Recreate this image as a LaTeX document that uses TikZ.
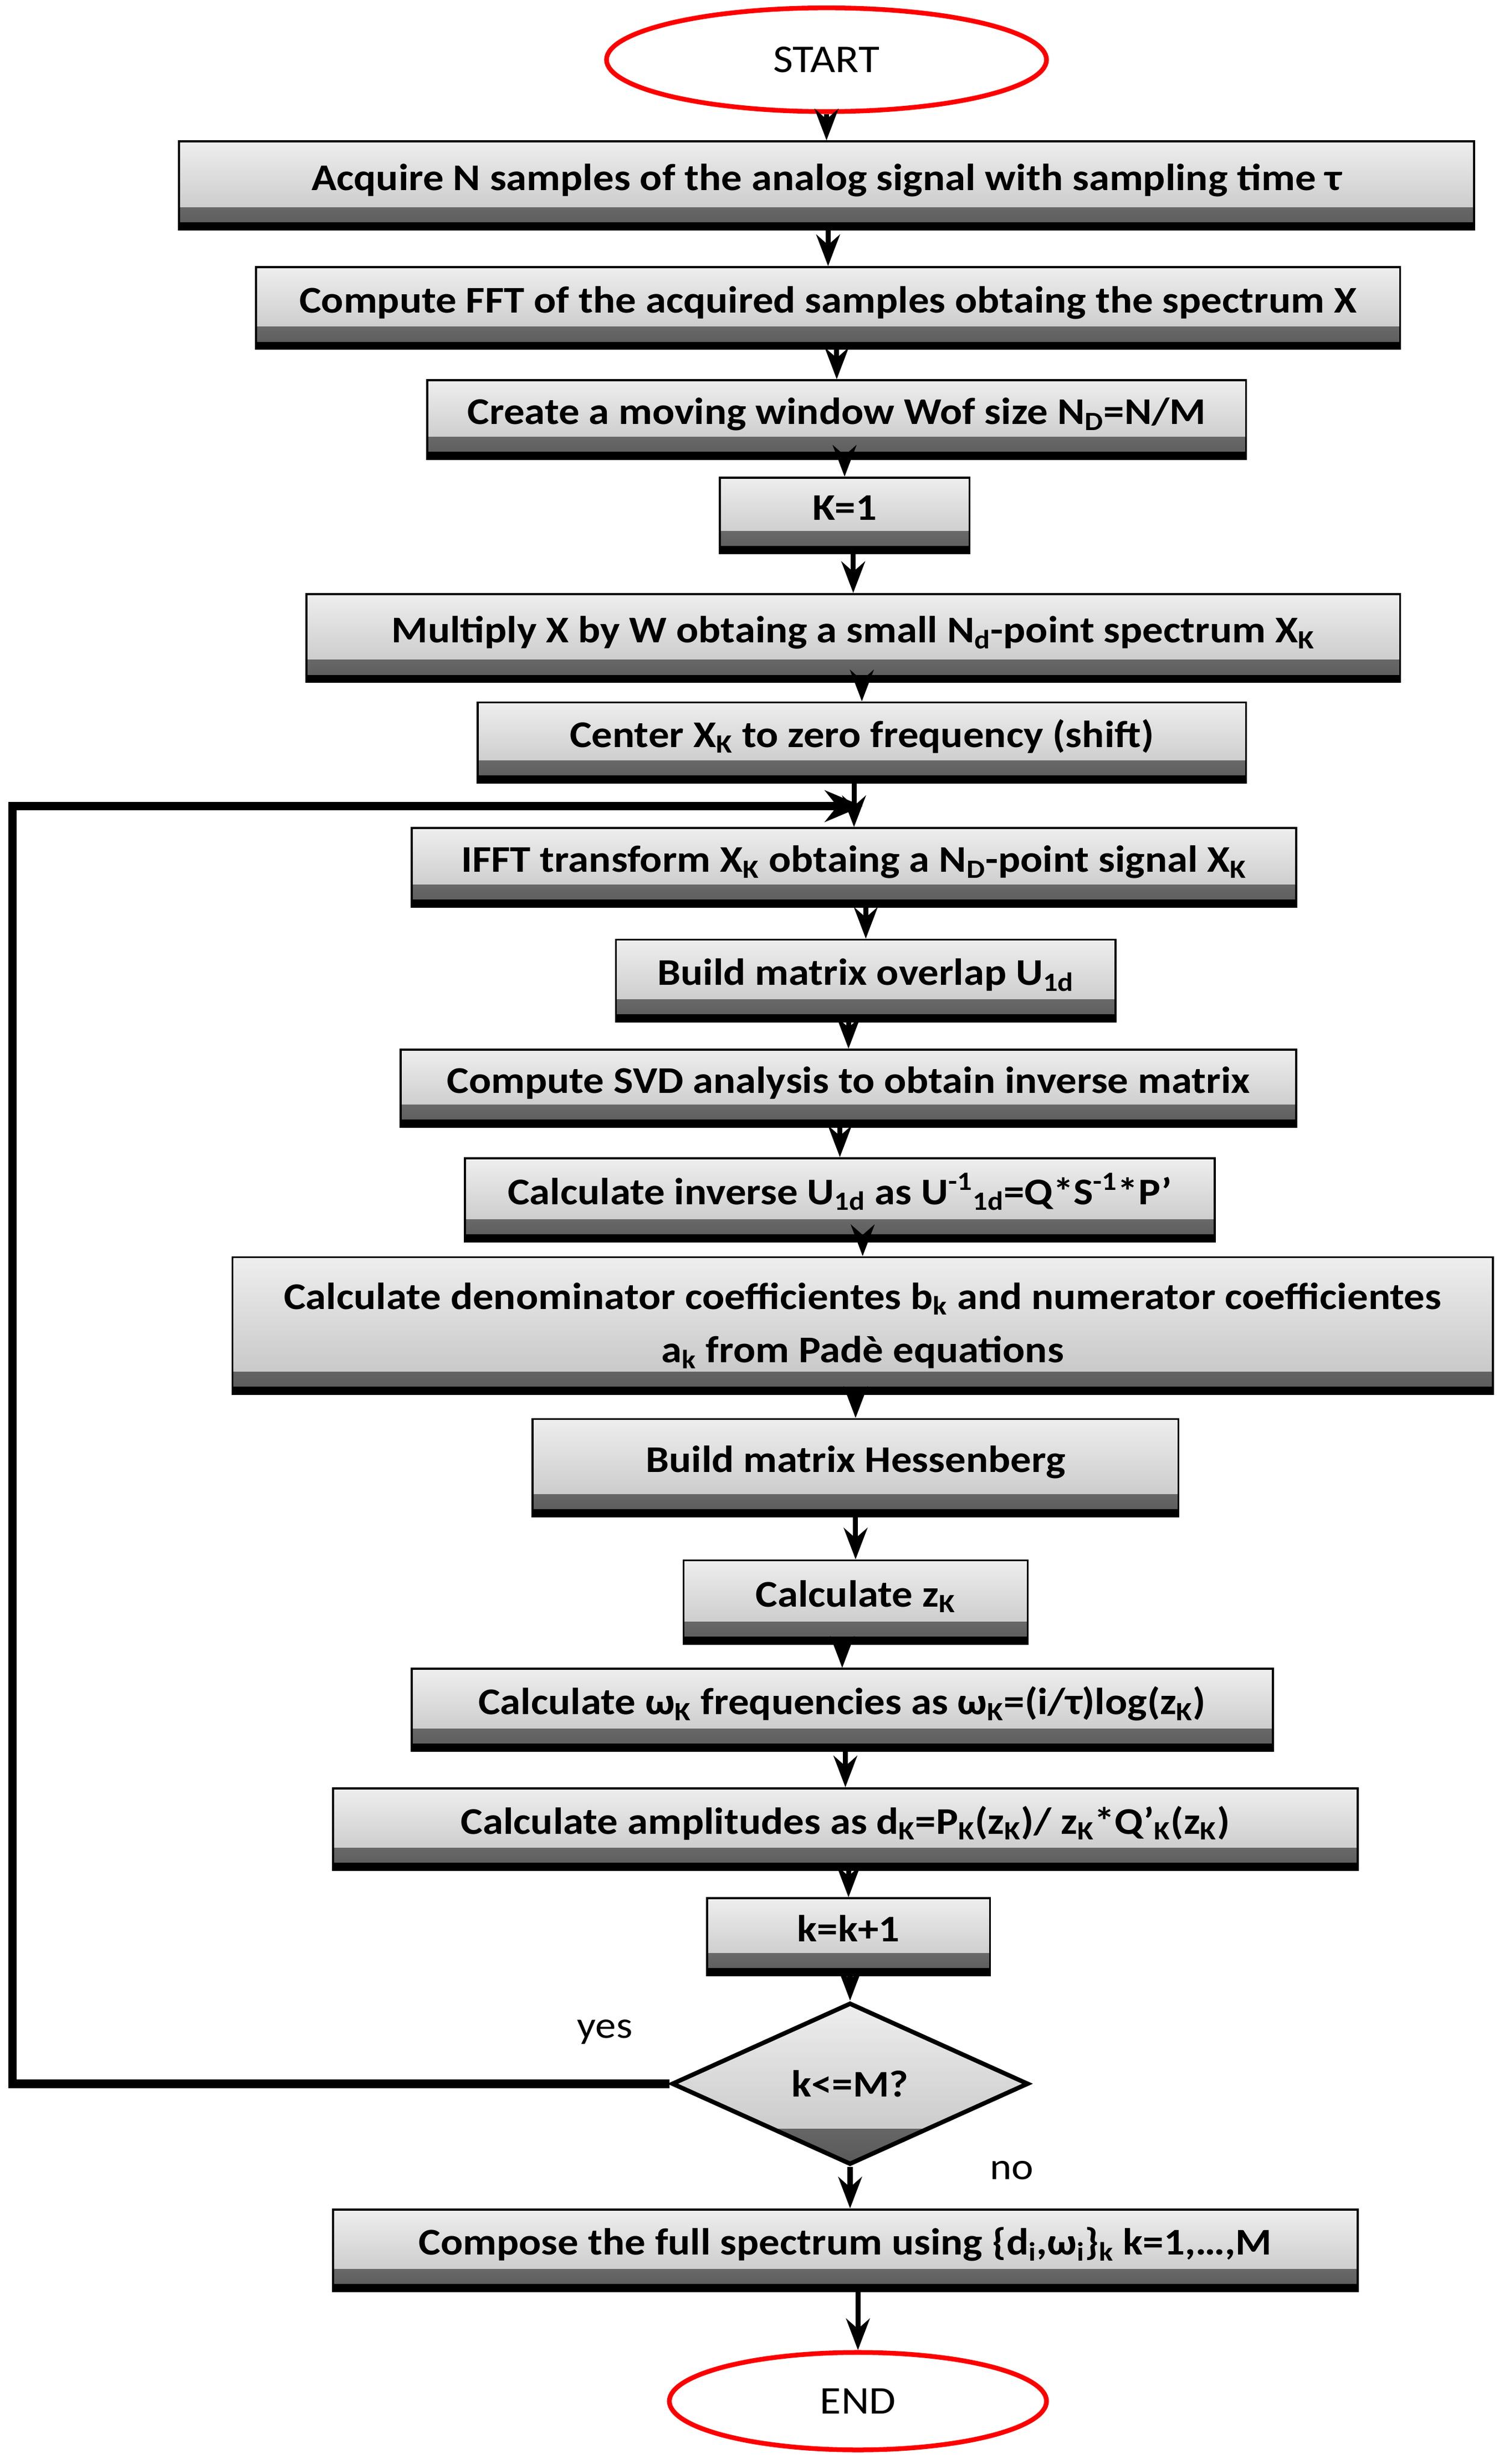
\documentclass[tikz,border=0pt]{standalone}
\usepackage{fontspec}
\setmainfont{Carlito}[FakeStretch=1.1]
\usetikzlibrary{shapes.geometric,arrows.meta,calc}
\definecolor{boxtop}{HTML}{EEEEEE}
\definecolor{boxbot}{HTML}{C2C2C2}
\definecolor{bandtop}{HTML}{8E8E8E}
\definecolor{bandbot}{HTML}{5A5A5A}
\tikzset{
  stepbox/.style={draw=black, line width=1.3pt, top color=boxtop, bottom color=boxbot,
    inner sep=0pt, align=center, font=\bfseries\fontsize{24}{34}\selectfont,
    path picture={
      \shade[top color=bandtop, bottom color=bandbot]
        (path picture bounding box.south west) rectangle ([yshift=14pt]path picture bounding box.south east);
      \fill[black]
        (path picture bounding box.south west) rectangle ([yshift=4.5pt]path picture bounding box.south east);
    }},
  oneline/.style={text height=16pt, text depth=10pt},
  decide/.style={diamond, draw=black, line width=2.8pt, top color=boxtop, bottom color=boxbot,
    inner sep=0pt, font=\bfseries\fontsize{24}{28}\selectfont,
    path picture={
      \shade[top color=bandtop, bottom color=bandbot]
        (path picture bounding box.south west) rectangle ([yshift=22pt]path picture bounding box.south east);
    }},
  term/.style={ellipse, draw=red, line width=3pt, fill=white, inner sep=0pt,
    font=\fontsize{25}{28}\selectfont},
  arr/.style={line width=3.2pt, -{Stealth[length=20pt,width=15pt]}},
  loopline/.style={line width=5.5pt, -{Stealth[length=24pt,width=20pt]}},
  lbl/.style={font=\fontsize{24}{28}\selectfont, inner sep=0pt}
}
\begin{document}
\begin{tikzpicture}[x=1pt,y=-1pt]
\useasboundingbox (0,0) rectangle (957,1568);

\node[term, minimum width=280pt, minimum height=66pt] (start) at (526,38) {START};

\node[stepbox, oneline, minimum width=824pt, minimum height=56pt] (acq) at (526,118)
  {Acquire N samples of the analog signal with sampling time τ};
\node[stepbox, oneline, minimum width=728pt, minimum height=52pt] (fft) at (527,196)
  {Compute FFT of the acquired samples obtaing the spectrum X};
\node[stepbox, oneline, minimum width=521pt, minimum height=50pt] (win) at (532.5,267)
  {Create a moving window Wof size N\textsubscript{D}=N/M};
\node[stepbox, oneline, minimum width=159pt, minimum height=48pt] (k1) at (537.5,328)
  {K=1};
\node[stepbox, oneline, minimum width=696pt, minimum height=56pt] (mul) at (543,406)
  {Multiply X by W obtaing a small N\textsubscript{d}-point spectrum X\textsubscript{K}};
\node[stepbox, oneline, minimum width=489pt, minimum height=51pt] (cen) at (548.5,472.5)
  {Center X\textsubscript{K} to zero frequency (shift)};
\node[stepbox, oneline, minimum width=563pt, minimum height=50pt] (ifft) at (543.5,552)
  {IFFT transform X\textsubscript{K} obtaing a N\textsubscript{D}-point signal X\textsubscript{K}};
\node[stepbox, oneline, minimum width=318pt, minimum height=52pt] (ovl) at (551,624)
  {Build matrix overlap U\textsubscript{1d}};
\node[stepbox, oneline, minimum width=570pt, minimum height=49pt] (svd) at (540,692.5)
  {Compute SVD analysis to obtain inverse matrix};
\node[stepbox, oneline, minimum width=477pt, minimum height=53pt] (inv) at (534.5,763.5)
  {Calculate inverse U\textsubscript{1d} as U\textsuperscript{-1}\textsubscript{1d}=Q*S\textsuperscript{-1}*P’};
\node[stepbox, minimum width=802pt, minimum height=87pt] (pade) at (549,843.5)
  {Calculate denominator coefficientes b\textsubscript{k} and numerator coefficientes\\
   a\textsubscript{k} from Padè equations};
\node[stepbox, oneline, minimum width=411pt, minimum height=62pt] (hes) at (544.5,934)
  {Build matrix Hessenberg};
\node[stepbox, oneline, minimum width=219pt, minimum height=53pt] (zk) at (544.5,1019.5)
  {Calculate z\textsubscript{K}};
\node[stepbox, oneline, minimum width=548pt, minimum height=52pt] (omg) at (536,1088)
  {Calculate ω\textsubscript{K} frequencies as ω\textsubscript{K}=(i/τ)log(z\textsubscript{K})};
\node[stepbox, oneline, minimum width=652pt, minimum height=52pt] (amp) at (538,1164)
  {Calculate amplitudes as d\textsubscript{K}=P\textsubscript{K}(z\textsubscript{K})/ z\textsubscript{K}*Q’\textsubscript{K}(z\textsubscript{K})};
\node[stepbox, oneline, minimum width=180pt, minimum height=49pt] (kk) at (540,1232.5)
  {k=k+1};
\node[decide, minimum width=227pt, minimum height=103pt] (dec) at (541,1326)
  {k<=M?};
\node[stepbox, oneline, minimum width=652pt, minimum height=52pt] (comp) at (538,1432)
  {Compose the full spectrum using \{d\textsubscript{i},ω\textsubscript{i}\}\textsubscript{k} k=1,…,M};

\node[term, minimum width=240pt, minimum height=62pt] (end) at (546,1528) {END};

\node[lbl] (yes) at (385,1293) {yes};
\node[lbl] (no) at (644,1381) {no};

% connectors
\draw[arr] (start.south) -- (start.south |- acq.north);
\draw[arr] (acq.south -| fft.north) -- (fft.north);
\draw[arr] (fft.south -| win.north) -- (win.north);
\draw[arr] (win.south -| k1.north) -- (k1.north);
\draw[arr] (k1.south -| mul.north) -- (mul.north);
\draw[arr] (mul.south -| cen.north) -- (cen.north);
\draw[arr] (cen.south -| ifft.north) -- (ifft.north);
\draw[arr] (ifft.south -| ovl.north) -- (ovl.north);
\draw[arr] (ovl.south -| svd.north) -- (svd.north);
\draw[arr] (svd.south -| inv.north) -- (inv.north);
\draw[arr] (inv.south -| pade.north) -- (pade.north);
\draw[arr] (pade.south -| hes.north) -- (hes.north);
\draw[arr] (hes.south -| zk.north) -- (zk.north);
\draw[arr] (zk.south -| omg.north) -- (omg.north);
\draw[arr] (omg.south -| amp.north) -- (amp.north);
\draw[arr] (amp.south -| kk.north) -- (kk.north);
\draw[arr] (kk.south -| dec.north) -- (dec.north);
\draw[arr] (dec.south) -- (dec.south |- comp.north);
\draw[arr] (comp.south -| end.north) -- (end.north);

\coordinate (lbot) at (8,1326);
\coordinate (ltop) at (8,513);
\coordinate (lend) at (549,513);
\draw[loopline] (dec.west) -- (lbot) -- (ltop) -- (lend);
\end{tikzpicture}
\end{document}
